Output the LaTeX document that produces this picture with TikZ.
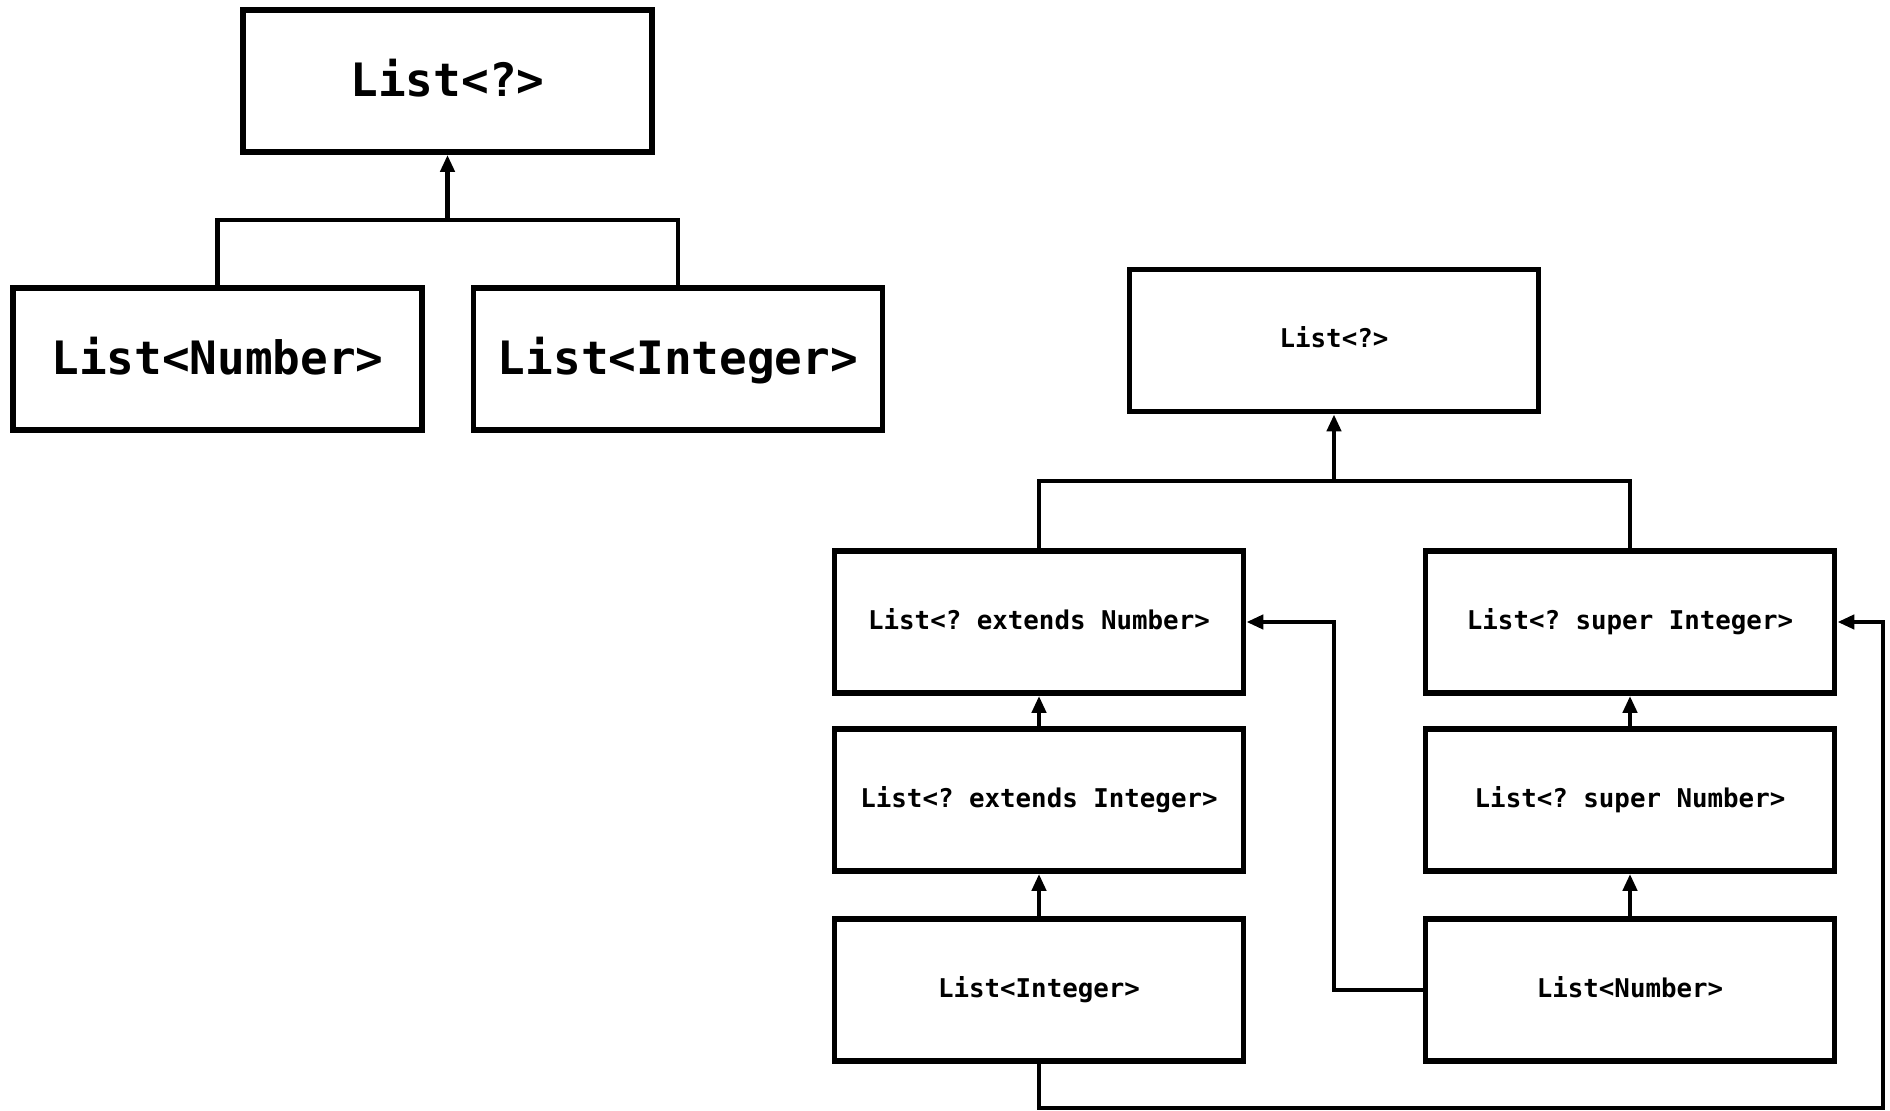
\documentclass[tikz,border=0pt]{standalone}
\usepackage{fontspec}
\setmonofont{DejaVu Sans Mono}
\usepackage{tikz}
\usetikzlibrary{arrows.meta}
\newcommand{\bw}{204.5pt}
\newcommand{\bh}{71pt}
\tikzset{
  tbox/.style={draw, line width=2.9pt, minimum width=\bw, minimum height=\bh,
    inner sep=0pt, text height=9pt, text depth=1.5pt,
    font=\ttfamily\bfseries\fontsize{12.9}{15}\selectfont},
  bigbox/.style={tbox, text height=17pt,
    font=\ttfamily\bfseries\fontsize{23}{27}\selectfont},
  link/.style={line width=2.4pt},
  arr/.style={link, -{Triangle[length=8.5pt,width=7pt]}}
}
\begin{document}
\begin{tikzpicture}[x=0.5pt,y=-0.5pt]
        \useasboundingbox (0,0) rectangle (1890,1111);
        % left: no relation between the two lists
        \node[bigbox] (ltop) at (447.5,81) {List<?>};
        \node[bigbox] (lnum) at (217.5,359) {List<Number>};
        \node[bigbox] (lint) at (678,359) {List<Integer>};
        \coordinate (ljoin) at (447.5,220);
        \draw[link] (lnum.north) |- (ljoin) -| (lint.north);
        \draw[arr] (ljoin) -- (ltop.south);
        % right: wildcard hierarchy
        \node[tbox] (rtop) at (1334,340.5) {List<?>};
        \node[tbox] (rextnum) at (1039,622) {List<? extends Number>};
        \node[tbox] (rsupint) at (1630,622) {List<? super Integer>};
        \node[tbox] (rextint) at (1039,800) {List<? extends Integer>};
        \node[tbox] (rsupnum) at (1630,800) {List<? super Number>};
        \node[tbox] (rint) at (1039,990) {List<Integer>};
        \node[tbox] (rnum) at (1630,990) {List<Number>};
        \coordinate (rjoin) at (1334,481);
        \coordinate (rbend) at (1334,990);
        \coordinate (rlow) at (1039,1108);
        \coordinate (rcorner) at (1883,1108);
        \draw[link] (rextnum.north) |- (rjoin) -| (rsupint.north);
        \draw[arr] (rjoin) -- (rtop.south);
        \draw[arr] (rextint) -- (rextnum);
        \draw[arr] (rint) -- (rextint);
        \draw[arr] (rsupnum) -- (rsupint);
        \draw[arr] (rnum) -- (rsupnum);
        \draw[arr] (rnum.west) -- (rbend) |- (rextnum.east);
        \draw[arr] (rint.south) -- (rlow) -- (rcorner) |- (rsupint.east);
    \end{tikzpicture}
\end{document}
